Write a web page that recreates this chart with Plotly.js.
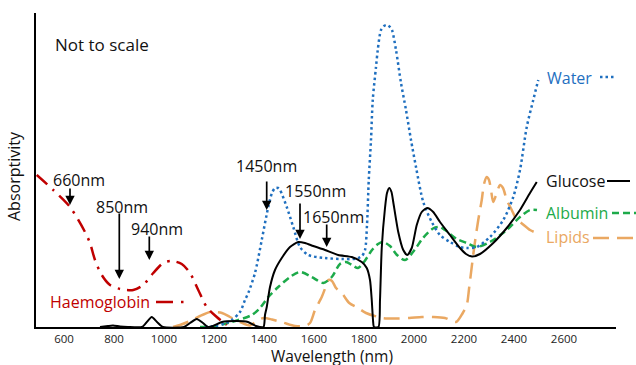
<!DOCTYPE html>
<html>
<head>
<meta charset="utf-8">
<script src="https://cdn.plot.ly/plotly-3.0.1.min.js"></script>
<style>html,body{margin:0;padding:0;background:#fff;}#chart{width:636px;height:365px;}</style>
</head>
<body>
<div id="chart"></div>
<script>
// ---- data (wavelength as placed on the schematic axis, relative absorptivity) ----
const tickVals = [600, 800, 1000, 1200, 1400, 1600, 1800, 2000, 2200, 2400, 2600];
const tickText = ["600", "800", "1000", "1200", "1400", "1600", "1800", "2000", "2200", "2400", "2600"];

const haemoglobinX = [491, 557, 624, 684, 704, 724, 751, 784, 824, 877, 917, 957, 997, 1031, 1071, 1104, 1137, 1171, 1211, 1251];
const haemoglobinY = [152, 137, 120, 95, 84, 67, 52, 42, 38, 37, 42, 54, 64, 66, 63, 54, 37, 20, 10, 2];

const glucoseX = [744, 776, 796, 824, 856, 912, 928, 951, 972, 996, 1080, 1104, 1131, 1156, 1176, 1196, 1232, 1291, 1336, 1368, 1398,
  1404, 1411, 1424, 1444, 1471, 1504, 1537, 1564, 1597, 1644, 1697, 1751, 1791, 1811, 1824, 1831, 1836, 1840,
  1858, 1864, 1871, 1884, 1892, 1901, 1910, 1917, 1937, 1957, 1973, 1991, 2011, 2031, 2053, 2077, 2104, 2144,
  2184, 2208, 2232, 2264, 2317, 2371, 2424, 2464, 2491];
const glucoseY = [0, 1, 1.5, 0.5, 0, 0, 4, 10, 5, 0, 0, 4, 8, 4, 0, 1, 5, 6, 5, 1, 0,
  12, 20, 40, 57, 69, 80, 85, 84, 81, 77, 72, 70, 65, 59, 47, 27, 7, 0,
  0, 27, 79, 119, 134, 139, 135, 125, 95, 77, 72, 79, 102, 115, 119, 115, 105, 92,
  79, 73, 70.5, 73, 84, 99, 117, 134, 145];

const waterX = [1164, 1204, 1244, 1271, 1304, 1324, 1337, 1364, 1391, 1417, 1432, 1444, 1456, 1464, 1491, 1517, 1544, 1577,
  1644, 1711, 1757, 1777, 1792, 1804, 1812, 1819, 1828, 1835, 1848, 1855, 1868, 1880, 1892, 1904, 1912, 1928, 1948,
  1968, 1988, 2008, 2037, 2071, 2104, 2144, 2184, 2211, 2251, 2304, 2357, 2397, 2424, 2451, 2477, 2497];
const waterY = [0, 1, 3.5, 7, 15, 27, 34, 54, 87, 120, 134, 139, 139, 137, 120, 100, 80, 72,
  69, 68, 68, 69, 71, 77, 102, 147, 187, 227, 260, 277, 297, 301, 302, 300, 297, 277, 244,
  217, 187, 160, 125, 105, 92, 85, 80, 79, 80, 90, 107, 130, 157, 200, 227, 247];

const albuminX = [1144, 1204, 1271, 1351, 1384, 1417, 1457, 1504, 1544, 1591, 1637, 1671, 1704, 1728, 1752, 1776, 1800, 1832,
  1856, 1876, 1904, 1932, 1964, 1996, 2036, 2076, 2104, 2124, 2171, 2211, 2251, 2304, 2371, 2424, 2464, 2492];
const albuminY = [0, 1, 5, 12, 19, 30, 40, 50, 55, 50, 44, 50, 63, 65, 62, 59, 65, 77,
  83, 85, 81, 72, 67, 75, 89, 98.5, 100, 97, 88, 84, 80, 85, 97, 110, 117, 117];

const lipidsX = [1036, 1064, 1104, 1144, 1184, 1204, 1232, 1264, 1304, 1344, 1376, 1400, 1432, 1476, 1524, 1564, 1584, 1604,
  1631, 1648, 1658, 1672, 1688, 1711, 1741, 1776, 1808, 1875, 1928, 1981, 2032, 2075, 2124, 2168, 2195, 2211, 2221,
  2241, 2257, 2271, 2280, 2291, 2300, 2308, 2317, 2331, 2344, 2356, 2371, 2391, 2411, 2424, 2464, 2491];
const lipidsY = [0, 2, 6, 11, 15, 15, 14, 10, 5, 1.5, 7, 9, 7.5, 4.5, 1, 1, 4, 17,
  30, 41, 47, 46, 39, 34, 24, 19, 14, 9, 8.5, 9, 10, 10, 9, 5, 14, 22, 40,
  80, 107, 127, 143, 150, 147, 137, 125, 134, 142, 139, 127, 117, 107, 105, 97, 94];

// ---- styling ----
const FONT = "Open Sans, Noto Sans, sans-serif";
const C_HB = "#C00000", C_GL = "#000000", C_WA = "#1F6FBF", C_AL = "#1DAA4A", C_LI = "#EAA862";

// plot area in pixels: x 36..616, y 13..327
function P(px, py) { return { x: (px - 36) / 580, y: (327 - py) / 314 }; }
function label(text, px, py, size, color, extra) {
  const p = P(px, py);
  return Object.assign({ xref: 'paper', yref: 'paper', x: p.x, y: p.y, xanchor: 'center', yanchor: 'middle',
    text: text, showarrow: false, font: { family: FONT, size: size, color: color } }, extra || {});
}
function arrow(px, pyTail, pyTip) {
  const p = P(px, pyTip);
  return { xref: 'paper', yref: 'paper', x: p.x, y: p.y, ax: 0, ay: -(pyTip - pyTail), text: '',
    showarrow: true, arrowhead: 2, arrowsize: 1.1, arrowwidth: 1.7, arrowcolor: '#000' };
}
function sample(px0, px1, py, color, width, dash) {
  const a = P(px0, py), b = P(px1, py);
  return { type: 'line', xref: 'paper', yref: 'paper', x0: a.x, y0: a.y, x1: b.x, y1: b.y,
    line: { color: color, width: width, dash: dash } };
}

const common = { type: 'scatter', mode: 'lines', hoverinfo: 'skip', showlegend: false };
const traces = [
  Object.assign({ x: lipidsX, y: lipidsY, line: { color: C_LI, width: 2.5, dash: '16px,8px', shape: 'spline', smoothing: 0.8 } }, common),
  Object.assign({ x: albuminX, y: albuminY, line: { color: C_AL, width: 2.5, dash: '7px,4px', shape: 'spline', smoothing: 0.8 } }, common),
  Object.assign({ x: waterX, y: waterY, line: { color: C_WA, width: 2.5, dash: '2.5px,3px', shape: 'spline', smoothing: 0.8 } }, common),
  Object.assign({ x: glucoseX, y: glucoseY, line: { color: C_GL, width: 2, shape: 'spline', smoothing: 0.6 } }, common),
  Object.assign({ x: haemoglobinX, y: haemoglobinY, line: { color: C_HB, width: 2.5, dash: '14px,7px,2.5px,7px', shape: 'spline', smoothing: 0.8 } }, common)
];

const annotations = [
  label('Not to scale', 102, 45, 17, '#111'),
  label('660nm', 79, 180, 16, '#111'),
  label('850nm', 121.5, 206.5, 16, '#111'),
  label('940nm', 157, 228.5, 16, '#111'),
  label('1450nm', 266, 166, 16, '#111'),
  label('1550nm', 315, 191.5, 16, '#111'),
  label('1650nm', 333.5, 216.5, 16, '#111'),
  arrow(70, 187, 205),
  arrow(119.3, 212, 279),
  arrow(149.3, 235, 260),
  arrow(266.7, 180, 210),
  arrow(300, 202, 239),
  arrow(326.7, 223, 247),
  label('Haemoglobin', 100, 302, 16, C_HB),
  label('Water', 569, 78, 16, C_WA),
  label('Glucose', 575, 181, 16, '#111'),
  label('Albumin', 576.5, 213, 16, C_AL),
  label('Lipids', 567.5, 237, 16, C_LI),
  label('Wavelength (nm)', 332, 355.5, 15.5, '#111', { borderpad: 0 }),
  label('Absorptivity', 14, 176, 16, '#111', { textangle: -90 })
];

const shapes = [
  sample(600, 616, 77, C_WA, 2.5, '2.5px,3px'),
  sample(607, 630, 181, C_GL, 2, 'solid'),
  sample(612, 636, 213, C_AL, 2.5, '7px,4px'),
  sample(593, 636, 238, C_LI, 2.5, '16px,8px'),
  sample(156, 184, 302, C_HB, 2.5, '17px,8px,2.5px,20px')
];

const layout = {
  width: 636, height: 365,
  margin: { l: 36, r: 20, t: 13, b: 38, pad: 0 },
  paper_bgcolor: '#fff', plot_bgcolor: '#fff',
  font: { family: FONT, color: '#111' },
  showlegend: false,
  xaxis: {
    range: [488, 2808], showgrid: false, zeroline: false,
    showline: true, linecolor: '#000', linewidth: 2,
    tickmode: 'array', tickvals: tickVals, ticktext: tickText, ticks: '',
    ticklabelstandoff: 0,
    tickfont: { family: FONT, size: 11.5, color: '#222' }, fixedrange: true
  },
  yaxis: {
    range: [0, 314], showgrid: false, zeroline: false,
    showline: true, linecolor: '#000', linewidth: 2,
    showticklabels: false, ticks: '', fixedrange: true
  },
  annotations: annotations,
  shapes: shapes
};

Plotly.newPlot('chart', traces, layout, { displayModeBar: false, staticPlot: true });
</script>
</body>
</html>
